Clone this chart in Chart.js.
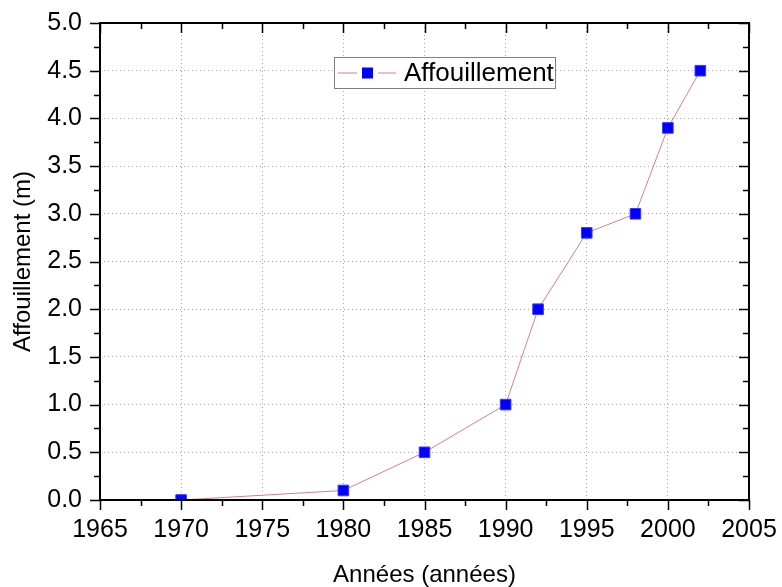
<!DOCTYPE html>
<html>
<head>
<meta charset="utf-8">
<script src="https://cdn.jsdelivr.net/npm/chart.js@4/dist/chart.umd.min.js"></script>
<style>
    html, body { margin: 0; padding: 0; background: #fff; }
    #wrap { width: 782px; height: 587px; }
</style>
</head>
<body>
<div id="wrap"><canvas id="chart" width="782" height="587"></canvas></div>
<script>
const FONT = "'Liberation Sans', Arial, sans-serif";

const years = [1970, 1980, 1985, 1990, 1992, 1995, 1998, 2000, 2002];
const affouillement = [0.0, 0.1, 0.5, 1.0, 2.0, 2.8, 3.0, 3.9, 4.5];
const seriesLabel = 'Affouillement';
const xTitle = 'Années (années)';
const yTitle = 'Affouillement (m)';

const X_MIN = 1965, X_MAX = 2005, X_STEP = 5;
const Y_MIN = 0, Y_MAX = 5, Y_STEP = 0.5;

const LINE_COLOR = '#d88080';
const MARKER_COLOR = '#0000ff';

// frame, mirrored ticks (major + minor) and the in-plot legend
const framePlugin = {
    id: 'originFrame',
    afterDatasetsDraw(chart) {
        const { ctx, chartArea: a, scales } = chart;
        const xs = scales.x, ys = scales.y;
        ctx.save();
        ctx.strokeStyle = '#000';
        ctx.lineWidth = 2;
        ctx.strokeRect(a.left, a.top, a.right - a.left, a.bottom - a.top);

        ctx.lineWidth = 1.5;
        const MAJOR = 10, MINOR = 6;
        ctx.beginPath();
        for (let v = X_MIN; v <= X_MAX + 1e-6; v += X_STEP / 2) {
            let px = Math.round(xs.getPixelForValue(v)) + 0.5;
            let len = ((v - X_MIN) % X_STEP === 0) ? MAJOR : MINOR;
            ctx.moveTo(px, a.bottom); ctx.lineTo(px, a.bottom + len);
            ctx.moveTo(px, a.top); ctx.lineTo(px, a.top + len);
        }
        for (let i = 0; i <= (Y_MAX - Y_MIN) / (Y_STEP / 2) + 1e-6; i++) {
            let v = Y_MIN + i * Y_STEP / 2;
            let py = Math.round(ys.getPixelForValue(v)) + 0.5;
            let len = (i % 2 === 0) ? MAJOR : MINOR;
            ctx.moveTo(a.left, py); ctx.lineTo(a.left - len, py);
            ctx.moveTo(a.right, py); ctx.lineTo(a.right - len, py);
        }
        ctx.stroke();

        // legend
        const box = { x: 334, y: 57, w: 221, h: 31 };
        ctx.fillStyle = '#fff';
        ctx.fillRect(box.x, box.y, box.w, box.h);
        ctx.strokeStyle = '#808080';
        ctx.lineWidth = 1;
        ctx.strokeRect(box.x + 0.5, box.y + 0.5, box.w, box.h);
        let cy = box.y + box.h / 2 + 0.5;
        ctx.strokeStyle = LINE_COLOR;
        ctx.beginPath();
        ctx.moveTo(338, cy); ctx.lineTo(357, cy);
        ctx.moveTo(378, cy); ctx.lineTo(396, cy);
        ctx.stroke();
        ctx.fillStyle = MARKER_COLOR;
        ctx.fillRect(362, cy - 5.5, 11, 11);
        ctx.fillStyle = '#000';
        ctx.font = '26px ' + FONT;
        ctx.textBaseline = 'middle';
        ctx.fillText(seriesLabel, 404, cy + 1);
        ctx.restore();
    }
};

const ctx = document.getElementById('chart').getContext('2d');
const chart = new Chart(ctx, {
    type: 'line',
    data: {
        datasets: [{
            label: seriesLabel,
            data: years.map((yr, i) => ({ x: yr, y: affouillement[i] })),
            borderColor: LINE_COLOR,
            borderWidth: 1,
            backgroundColor: MARKER_COLOR,
            pointStyle: 'rect',
            pointRadius: 7.5,
            pointBackgroundColor: MARKER_COLOR,
            pointBorderColor: '#3a3aff',
            pointBorderWidth: 1,
            tension: 0,
            clip: 0
        }]
    },
    options: {
        responsive: false,
        animation: false,
        events: [],
        layout: { padding: { top: 23, right: 33, left: 0, bottom: 0 } },
        plugins: {
            legend: { display: false },
            tooltip: { enabled: false }
        },
        scales: {
            x: {
                type: 'linear',
                min: X_MIN,
                max: X_MAX,
                afterFit: (scale) => {
                    scale.height = 87;
                    scale.paddingLeft = 0;
                    scale.paddingRight = 0;
                },
                ticks: {
                    stepSize: X_STEP,
                    padding: 15,
                    color: '#000',
                    font: { family: FONT, size: 25 },
                    callback: (v) => String(v)
                },
                grid: { color: '#a8a8a8', lineWidth: 1, drawTicks: false },
                border: { display: false, dash: [1, 3] },
                title: {
                    display: true,
                    text: xTitle,
                    color: '#000',
                    font: { family: FONT, size: 24 },
                    padding: { top: 0, bottom: -3 }
                }
            },
            y: {
                min: Y_MIN,
                max: Y_MAX,
                afterFit: (scale) => {
                    scale.width = 100;
                    scale.paddingTop = 0;
                    scale.paddingBottom = 0;
                },
                ticks: {
                    stepSize: Y_STEP,
                    padding: 18,
                    color: '#000',
                    font: { family: FONT, size: 25 },
                    callback: (v) => v.toFixed(1)
                },
                grid: { color: '#a8a8a8', lineWidth: 1, drawTicks: false },
                border: { display: false, dash: [1, 3] },
                title: {
                    display: true,
                    text: yTitle,
                    color: '#000',
                    font: { family: FONT, size: 24 },
                    padding: { top: 9, bottom: 0 }
                }
            }
        }
    },
    plugins: [framePlugin]
});
</script>
</body>
</html>
